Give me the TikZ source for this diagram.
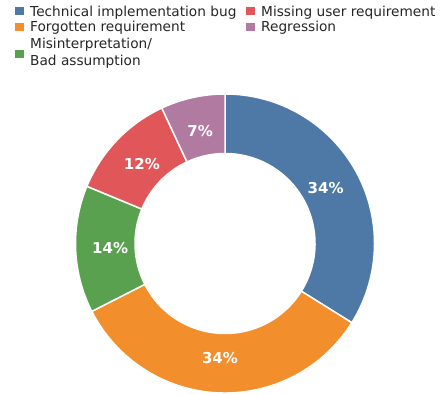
\documentclass[tikz,border=0pt]{standalone}
\usepackage{fontspec}
\setmainfont{DejaVu Sans}
\usetikzlibrary{calc}
\definecolor{cblue}{HTML}{4E79A7}
\definecolor{corange}{HTML}{F28E2B}
\definecolor{cgreen}{HTML}{59A14F}
\definecolor{cred}{HTML}{E15759}
\definecolor{cpurple}{HTML}{B07AA1}
\tikzset{
  slice/.style={draw=white, line width=1.5pt, line join=miter},
  pct/.style={text=white, font=\fontsize{15}{17}\selectfont\bfseries, inner sep=0pt},
  legtext/.style={anchor=base west, inner sep=0pt, font=\fontsize{13.7}{16}\selectfont, text=black!85}
}
\newcommand{\dslice}[3]{%
  \fill[#3] ($(c)+(#1:149.5)$) arc[start angle=#1, end angle=#2, radius=149.5] -- ($(c)+(#2:90)$) arc[start angle=#2, end angle=#1, radius=90] -- cycle;
  \draw[slice] ($(c)+(#1:149.5)$) arc[start angle=#1, end angle=#2, radius=149.5] -- ($(c)+(#2:90)$) arc[start angle=#2, end angle=#1, radius=90] -- cycle;}
\begin{document}
\begin{tikzpicture}[x=1pt,y=1pt]
\useasboundingbox (0,0) rectangle (446,395);
\coordinate (c) at (225,151.5);
\dslice{90}{-32}{cblue}
\dslice{-32}{-153}{corange}
\dslice{-153}{-202.5}{cgreen}
\dslice{-202.5}{-245}{cred}
\dslice{-245}{-270}{cpurple}
\node[pct] (p1) at ($(c)+(29:115)$) {34\%};
\node[pct] (p2) at ($(c)+(-92.5:115)$) {34\%};
\node[pct] (p3) at ($(c)+(-177.75:115)$) {14\%};
\node[pct] (p4) at ($(c)+(-223.75:115)$) {12\%};
\node[pct] (p5) at ($(c)+(-257.5:115)$) {7\%};
% legend
\fill[cblue] (15,380) rectangle (24,387.7);
\fill[corange] (15,364.3) rectangle (24,372.3);
\fill[cgreen] (15,336.7) rectangle (24,345);
\fill[cred] (246,380) rectangle (255,387.7);
\fill[cpurple] (246,364.3) rectangle (255,372.3);
\node[legtext] (l1) at (30,378.7) {Technical implementation bug};
\node[legtext] (l2) at (30,363) {Forgotten requirement};
\node[legtext] (l3) at (30,346) {Misinterpretation/};
\node[legtext] (l3b) at (30,329.7) {Bad assumption};
\node[legtext] (l4) at (261,378.7) {Missing user requirement};
\node[legtext] (l5) at (261,363) {Regression};
\end{tikzpicture}
\end{document}
